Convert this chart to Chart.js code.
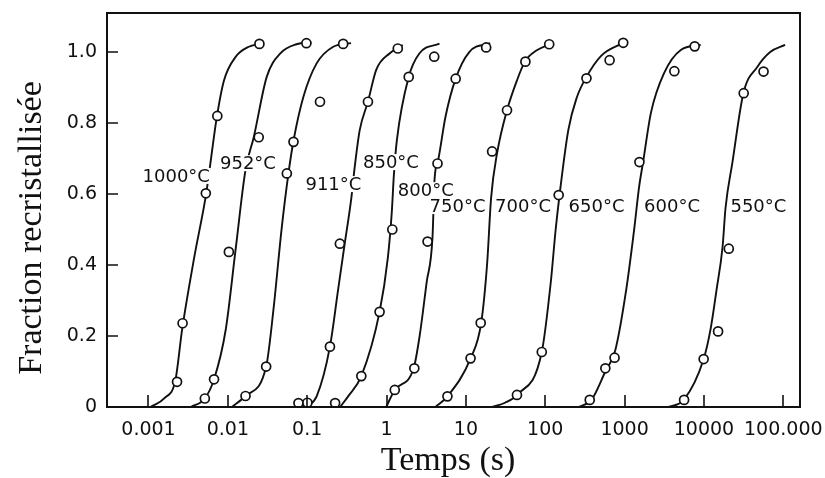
<!DOCTYPE html>
<html lang="fr">
<head>
<meta charset="UTF-8">
<title>Fraction recristallisée en fonction du temps</title>
<script src="https://cdn.jsdelivr.net/npm/chart.js"></script>
<style>
  html, body { margin: 0; padding: 0; background: #fff; }
  #wrap { width: 825px; height: 478px; }
</style>
</head>
<body>
<div id="wrap"><canvas id="chart"></canvas></div>
<script>
// températures de recuit
const temperatures = ['1000°C', '952°C', '911°C', '850°C', '800°C', '750°C', '700°C', '650°C', '600°C', '550°C'];

// courbes lissées : temps (s) et fraction recristallisée
const courbeTemps = [
  [0.00106, 0.00159, 0.00218, 0.00266, 0.00376, 0.00532, 0.00730, 0.00894, 0.0126, 0.0184, 0.0252],
  [0.00342, 0.00513, 0.00670, 0.00939, 0.0125, 0.0167, 0.0212, 0.0309, 0.0462, 0.0732, 0.113],
  [0.01125, 0.0167, 0.0304, 0.0378, 0.0475, 0.0582, 0.0672, 0.0896, 0.1315, 0.213, 0.357],
  [0.0977, 0.1315, 0.1935, 0.245, 0.297, 0.3605, 0.3975, 0.459, 0.583, 0.741, 1.09, 1.60],
  [0.260, 0.328, 0.481, 0.817, 1.038, 1.165, 1.234, 1.346, 1.902, 2.588, 4.647],
  [0.989, 1.270, 2.196, 2.611, 3.195, 3.797, 4.023, 4.515, 5.524, 7.431, 11.03, 20.20],
  [4.140, 5.852, 11.45, 15.58, 18.53, 20.79, 24.72, 32.97, 44.00, 55.39, 78.27, 113.8],
  [21.40, 31.12, 44.00, 90.42, 117.2, 135.3, 151.9, 195.2, 247.9, 330.7, 509.4, 960.5],
  [262.6, 381.9, 571.9, 762.9, 1047, 1319, 1523, 1709, 2152, 3131, 5110, 9094],
  [3513, 5569, 9913, 12130, 14410, 17140, 18690, 22870, 31400, 46990, 68360, 105300]
];
const courbeFraction = [
  [0, 0.025, 0.075, 0.22, 0.42, 0.60, 0.82, 0.92, 0.987, 1.015, 1.023],
  [0, 0.024, 0.078, 0.217, 0.442, 0.668, 0.76, 0.93, 0.997, 1.022, 1.027],
  [0, 0.031, 0.114, 0.28, 0.50, 0.66, 0.75, 0.874, 0.968, 1.015, 1.025],
  [0, 0.03, 0.17, 0.33, 0.46, 0.59, 0.677, 0.78, 0.86, 0.95, 0.996, 1.02],
  [0, 0.03, 0.087, 0.268, 0.42, 0.55, 0.65, 0.75, 0.93, 0.996, 1.024],
  [0, 0.048, 0.109, 0.20, 0.35, 0.48, 0.64, 0.70, 0.817, 0.925, 1.0, 1.025],
  [0, 0.03, 0.137, 0.237, 0.405, 0.59, 0.715, 0.836, 0.92, 0.973, 1.005, 1.022],
  [0, 0.012, 0.034, 0.155, 0.35, 0.50, 0.60, 0.78, 0.87, 0.93, 0.99, 1.026],
  [0, 0.02, 0.10, 0.16, 0.33, 0.50, 0.62, 0.69, 0.83, 0.94, 1.006, 1.02],
  [0, 0.02, 0.135, 0.22, 0.33, 0.45, 0.56, 0.69, 0.884, 0.958, 1.0, 1.02]
];

// points expérimentaux
const mesureTemps = [
  [0.00229, 0.00269, 0.00528, 0.00737, 0.0250],
  [0.00513, 0.00670, 0.0103, 0.0245, 0.0977],
  [0.0167, 0.0304, 0.0554, 0.0672, 0.145, 0.284],
  [0.0776, 0.1006, 0.1935, 0.258, 0.583, 1.385],
  [0.225, 0.481, 0.817, 1.182, 1.902, 3.989],
  [1.270, 2.240, 3.288, 4.387, 7.431, 18.00],
  [5.852, 11.45, 15.36, 21.40, 32.97, 56.20, 112.2],
  [44.00, 90.42, 147.6, 330.7, 647.1, 960.5],
  [363.6, 571.9, 747.5, 1537, 4236, 7646],
  [5620, 9913, 15060, 20560, 31670, 56340]
];
const mesureFraction = [
  [0.071, 0.236, 0.602, 0.82, 1.023],
  [0.024, 0.078, 0.437, 0.76, 1.025],
  [0.031, 0.114, 0.658, 0.747, 0.86, 1.023],
  [0.011, 0.012, 0.17, 0.46, 0.86, 1.01],
  [0.011, 0.087, 0.268, 0.50, 0.93, 0.987],
  [0.048, 0.109, 0.466, 0.686, 0.925, 1.013],
  [0.03, 0.137, 0.237, 0.72, 0.836, 0.973, 1.022],
  [0.034, 0.155, 0.597, 0.926, 0.977, 1.026],
  [0.02, 0.109, 0.139, 0.69, 0.946, 1.016],
  [0.02, 0.135, 0.213, 0.446, 0.884, 0.945]
];

// graduations
const ticksTemps = [0.001, 0.01, 0.1, 1, 10, 100, 1000, 10000, 100000];
const ticksTempsTexte = ['0.001', '0.01', '0.1', '1', '10', '100', '1000', '10000', '100.000'];
const ticksFraction = [0, 0.2, 0.4, 0.6, 0.8, 1.0];
const ticksFractionTexte = ['0', '0.2', '0.4', '0.6', '0.8', '1.0'];

// ancrage des étiquettes de température (bord gauche du texte, milieu)
const etiquetteTemps = [0.000841, 0.00796, 0.0950, 0.505, 1.385, 3.483, 23.33, 196.9, 1759, 21580];
const etiquetteFraction = [0.651, 0.687, 0.628, 0.690, 0.611, 0.566, 0.566, 0.566, 0.566, 0.566];

const encre = '#111';
Chart.defaults.font.family = '"DejaVu Sans", sans-serif';
Chart.defaults.color = encre;

const datasets = [];
temperatures.forEach((temp, i) => {
  datasets.push({
    label: temp,
    data: courbeTemps[i].map((t, j) => ({ x: t, y: courbeFraction[i][j] })),
    borderColor: encre,
    borderWidth: 1.9,
    pointRadius: 0,
    fill: false,
    cubicInterpolationMode: 'monotone',
    order: 2
  });
});
temperatures.forEach((temp, i) => {
  datasets.push({
    label: temp + ' (mesures)',
    data: mesureTemps[i].map((t, j) => ({ x: t, y: mesureFraction[i][j] })),
    showLine: false,
    pointStyle: 'circle',
    pointRadius: 4.5,
    pointBorderWidth: 1.7,
    pointBorderColor: encre,
    pointBackgroundColor: '#fff',
    order: 1
  });
});

// cadre, graduations intérieures, étiquettes et titres des axes
const habillage = {
  id: 'habillage',
  afterDatasetsDraw(chart) {
    const { ctx, chartArea: a, scales: { x, y } } = chart;
    ctx.save();

    ctx.font = '18px "DejaVu Sans"';
    ctx.textBaseline = 'middle';
    ctx.textAlign = 'left';
    temperatures.forEach((txt, i) => {
      const px = x.getPixelForValue(etiquetteTemps[i]);
      const py = y.getPixelForValue(etiquetteFraction[i]);
      const w = ctx.measureText(txt).width;
      ctx.fillStyle = '#fff';
      ctx.fillRect(px - 1, py - 8, w + 2, 16);
      ctx.fillStyle = encre;
      ctx.fillText(txt, px, py + 1);
    });

    ctx.strokeStyle = encre;
    ctx.lineWidth = 2;
    ctx.strokeRect(a.left, a.top, a.right - a.left, a.bottom - a.top);

    ctx.lineWidth = 1.6;
    ctx.beginPath();
    ticksFraction.forEach(v => {
      const py = Math.round(y.getPixelForValue(v));
      ctx.moveTo(a.left, py);
      ctx.lineTo(a.left + 11, py);
    });
    ticksTemps.forEach(v => {
      const px = Math.round(x.getPixelForValue(v));
      ctx.moveTo(px, a.bottom);
      ctx.lineTo(px, a.bottom - 12);
    });
    ctx.stroke();

    ctx.fillStyle = encre;
    ctx.font = '34px "Liberation Serif"';
    ctx.textAlign = 'center';
    ctx.textBaseline = 'alphabetic';
    ctx.fillText('Temps (s)', 448, 470);
    ctx.translate(41, 228);
    ctx.rotate(-Math.PI / 2);
    ctx.fillText('Fraction recristallisée', 0, 0);
    ctx.restore();
  }
};

new Chart(document.getElementById('chart'), {
  type: 'line',
  data: { datasets },
  options: {
    responsive: true,
    maintainAspectRatio: false,
    animation: false,
    layout: { padding: { top: 13, right: 25, left: 0, bottom: 0 } },
    plugins: { legend: { display: false }, tooltip: { enabled: false } },
    scales: {
      x: {
        type: 'logarithmic',
        min: 0.000344,
        max: 162300,
        grid: { display: false, drawTicks: false },
        border: { display: false },
        afterBuildTicks: s => { s.ticks = ticksTemps.map(v => ({ value: v })); },
        afterFit: s => {
          s.height = 71;
          s.paddingLeft = 0;
          s.paddingRight = 0;
        },
        ticks: {
          autoSkip: false,
          maxRotation: 0,
          padding: 12,
          font: { size: 19 },
          callback: (v, i) => ticksTempsTexte[i]
        }
      },
      y: {
        type: 'linear',
        min: 0,
        max: 1.11,
        grid: { display: false, drawTicks: false },
        border: { display: false },
        afterBuildTicks: s => { s.ticks = ticksFraction.map(v => ({ value: v })); },
        afterFit: s => {
          s.width = 107;
          s.paddingTop = 0;
          s.paddingBottom = 0;
        },
        ticks: {
          autoSkip: false,
          padding: 10,
          font: { size: 19 },
          callback: (v, i) => ticksFractionTexte[i]
        }
      }
    }
  },
  plugins: [habillage]
});
</script>
</body>
</html>
